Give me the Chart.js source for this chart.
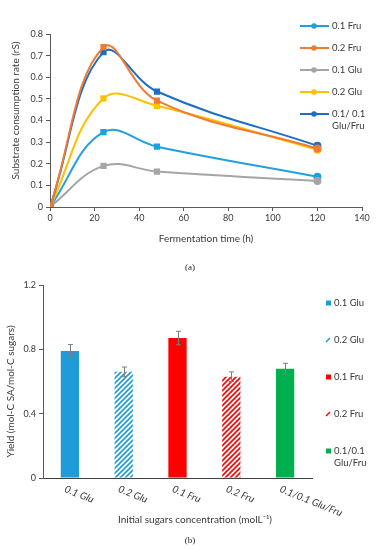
<!DOCTYPE html>
<html>
<head>
<meta charset="utf-8">
<script src="https://cdn.jsdelivr.net/npm/chart.js@4"></script>
<style>
  body { margin: 0; background: #fff; width: 376px; height: 550px; position: relative; overflow: hidden; }
  canvas { position: absolute; left: 0; }
  .cap { position: absolute; font: 9px "Liberation Serif", serif; color: #222; transform: translateX(-50%); }
</style>
</head>
<body>
<canvas id="chart-a" width="376" height="250" style="top:0"></canvas>
<canvas id="chart-b" width="376" height="292" style="top:258px"></canvas>
<div class="cap" style="left:190px; top:262px">(a)</div>
<div class="cap" style="left:190px; top:535px">(b)</div>
<script>
// (a) substrate consumption
const timeH = [0, 24, 48, 120];
const fru01 = [0, 0.346, 0.279, 0.14];
const fru02 = [0, 0.739, 0.492, 0.27];
const glu01 = [0, 0.19, 0.164, 0.12];
const glu02 = [0, 0.502, 0.468, 0.265];
const mix01 = [0, 0.716, 0.534, 0.283];
const lineNames = ['0.1 Fru', '0.2 Fru', '0.1 Glu', '0.2 Glu', '0.1/ 0.1\nGlu/Fru'];
const lineColors = ['#1FA0DF', '#F07B33', '#A5A5A5', '#FFC000', '#1E6EC4'];

// (b) yields
const sugars = ['0.1 Glu', '0.2 Glu', '0.1 Fru', '0.2 Fru', '0.1/0.1 Glu/Fru'];
const yieldVals = [0.79, 0.66, 0.87, 0.63, 0.68];
const yieldErr = [0.04, 0.03, 0.042, 0.03, 0.033];
const barLegend = ['0.1 Glu', '0.2 Glu', '0.1 Fru', '0.2 Fru', '0.1/0.1\nGlu/Fru'];

const FONT = 'Lato, "Open Sans", sans-serif';
const TXT = '#383838';
Chart.defaults.font.family = FONT;
Chart.defaults.color = TXT;

const pts = arr => arr.map((v, i) => ({ x: timeH[i], y: v }));
const markerStyle = ['circle', 'rect', 'rect', 'circle'];

const series = [fru01, fru02, glu01, glu02, mix01];
// draw order: last series on top like the reference
const lineSets = series.map((s, i) => ({
    label: lineNames[i],
    data: pts(s),
    borderColor: lineColors[i],
    backgroundColor: lineColors[i],
    borderWidth: 2,
    pointStyle: markerStyle,
    pointRadius: 3,
    tension: 0.4,
    order: i === 1 ? 0 : 5 - i,
}));

const legendA = {
    id: 'legendA',
    afterDraw(chart) {
        const ctx = chart.ctx;
        ctx.save();
        ctx.font = '9.5px ' + FONT;
        ctx.textBaseline = 'middle';
        lineNames.forEach((name, i) => {
            const y = 26 + i * 22;
            ctx.strokeStyle = lineColors[i];
            ctx.lineWidth = 2;
            ctx.beginPath();
            ctx.moveTo(300, y);
            ctx.lineTo(329, y);
            ctx.stroke();
            ctx.fillStyle = lineColors[i];
            ctx.beginPath();
            ctx.arc(314, y, 2.8, 0, Math.PI * 2);
            ctx.fill();
            ctx.fillStyle = TXT;
            name.split('\n').forEach((t, k) => ctx.fillText(t, 332, y + k * 12));
        });
        ctx.restore();
    }
};

new Chart(document.getElementById('chart-a').getContext('2d'), {
    type: 'line',
    data: { datasets: lineSets },
    options: {
        responsive: false,
        animation: false,
        layout: { padding: { top: 34, right: 14, left: 0, bottom: 0 } },
        plugins: { legend: { display: false }, tooltip: { enabled: false } },
        scales: {
            x: {
                type: 'linear',
                min: 0,
                max: 140,
                afterFit: s => { s.height = 43; },
                ticks: { stepSize: 20, font: { size: 9 }, padding: 2 },
                grid: { display: true, drawOnChartArea: false, tickLength: 4, color: '#595959' },
                border: { color: '#595959' },
                title: { display: true, text: 'Fermentation time (h)', font: { size: 10 }, padding: { top: 0, bottom: 5 } },
            },
            y: {
                min: 0,
                max: 0.8,
                afterFit: s => { s.width = 50; },
                ticks: { stepSize: 0.1, font: { size: 9 }, padding: 3,
                    callback: v => v === 0 ? '0' : v.toFixed(1) },
                grid: { display: true, drawOnChartArea: false, tickLength: 4, color: '#595959' },
                border: { color: '#595959' },
                title: { display: true, text: '\u2002\u2002\u2002\u2002Substrate consumption rate (rS)', font: { size: 10 }, padding: { top: 10 } },
            },
        },
    },
    plugins: [legendA],
});

function hatch(color) {
    const c = document.createElement('canvas');
    c.width = 5;
    c.height = 5;
    const g = c.getContext('2d');
    g.strokeStyle = color;
    g.lineWidth = 1.6;
    g.beginPath();
    g.moveTo(-1, 6); g.lineTo(6, -1);
    g.moveTo(-1, 1); g.lineTo(1, -1);
    g.moveTo(4, 6); g.lineTo(6, 4);
    g.stroke();
    return g.createPattern(c, 'repeat');
}

const ctxB = document.getElementById('chart-b').getContext('2d');
const barFills = ['#1F9BD9', hatch('#1F9BD9'), '#FF0000', hatch('#FF0000'), '#00B04F'];
const legendColors = ['#1F9BD9', '#1F9BD9', '#FF0000', '#FF0000', '#00B04F'];

const extrasB = {
    id: 'extrasB',
    afterDatasetsDraw(chart) {
        const { ctx, scales: { x, y }, chartArea } = chart;
        ctx.save();
        // error bars
        ctx.strokeStyle = '#7F7F7F';
        ctx.lineWidth = 1;
        yieldVals.forEach((v, i) => {
            const px = Math.round(x.getPixelForValue(i)) + 0.5;
            const hi = y.getPixelForValue(v + yieldErr[i]);
            const lo = y.getPixelForValue(v - yieldErr[i]);
            ctx.beginPath();
            ctx.moveTo(px, hi); ctx.lineTo(px, lo);
            ctx.moveTo(px - 2.5, hi); ctx.lineTo(px + 2.5, hi);
            ctx.moveTo(px - 2.5, lo); ctx.lineTo(px + 2.5, lo);
            ctx.stroke();
        });
        // slanted category labels
        ctx.fillStyle = TXT;
        ctx.font = 'italic 10px ' + FONT;
        ctx.textBaseline = 'top';
        ctx.textAlign = 'left';
        sugars.forEach((t, i) => {
            const px = x.getPixelForValue(i);
            ctx.save();
            ctx.translate(px - 3, chartArea.bottom + 6);
            ctx.rotate(22 * Math.PI / 180);
            ctx.fillText(t, 0, 0);
            ctx.restore();
        });
        // legend
        ctx.font = '9.5px ' + FONT;
        ctx.textBaseline = 'middle';
        barLegend.forEach((name, i) => {
            const ly = 45 + i * 37;
            if (i === 1 || i === 3) {
                ctx.strokeStyle = legendColors[i];
                ctx.lineWidth = 1.5;
                ctx.beginPath();
                ctx.moveTo(326, ly + 2); ctx.lineTo(330, ly - 2);
                ctx.stroke();
            } else {
                ctx.fillStyle = legendColors[i];
                ctx.fillRect(326, ly - 2.5, 5, 5);
            }
            ctx.fillStyle = TXT;
            name.split('\n').forEach((t, k) => ctx.fillText(t, 334, ly + k * 12));
        });
        ctx.restore();
    }
};

new Chart(ctxB, {
    type: 'bar',
    data: {
        labels: sugars,
        datasets: [{
            label: 'Yield',
            data: yieldVals,
            backgroundColor: barFills,
            borderWidth: 0,
            barPercentage: 0.34,
            categoryPercentage: 1,
        }],
    },
    options: {
        responsive: false,
        animation: false,
        layout: { padding: { top: 27, right: 64, left: 0, bottom: 22 } },
        plugins: { legend: { display: false }, tooltip: { enabled: false } },
        scales: {
            x: {
                afterFit: s => { s.height = 50; },
                ticks: { display: false },
                grid: { display: false },
                border: { color: '#404040' },
                title: { display: true, text: '\u2002\u2002\u2002\u2002\u2002\u2002\u2002Initial sugars concentration (molL⁻¹)', font: { size: 10 }, padding: { top: 0, bottom: 2 } },
            },
            y: {
                min: 0,
                max: 1.2,
                afterFit: s => { s.width = 43; },
                ticks: { stepSize: 0.4, font: { size: 9 }, padding: 3,
                    callback: v => v === 0 ? '0' : v.toFixed(1) },
                grid: { display: true, drawOnChartArea: false, tickLength: 4, color: '#595959' },
                border: { color: '#595959' },
                title: { display: true, text: 'Yield (mol-C SA/mol-C sugars)\u2002\u2002\u2002\u2002', font: { size: 10 }, padding: { top: 5 } },
            },
        },
    },
    plugins: [extrasB],
});
</script>
</body>
</html>
